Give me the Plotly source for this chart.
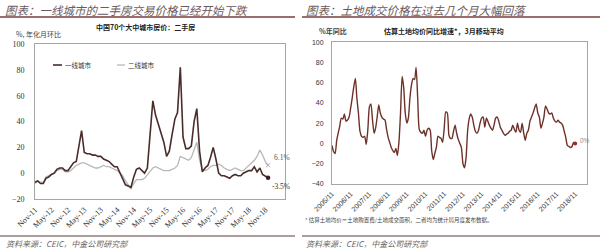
import plotly.graph_objects as go
import pandas as pd

# ---------------- data ----------------
tier1 = [-7, -6, -8, -8, -4, -3, -1, 0, 3, 4, 4, 2, 2, 5, 8, 9, 20, 33, 16, 15,
         15, 14, 14, 13, 13, 11, 10, 9, 7, 5, 5, 0, -4, -9, -10, -11, -3, 3, 4, 2,
         0, 4, 30, 56, 45, 38, 30, 24, 13, 17, 30, 42, 47, 82, 28, 19, 19, 21, 40, 50,
         17, 1, 4, 6, 12, 20, 11, 0, -2, -2, -3, -4, -2, -1, -2, -2, 0, 1, 2, 2,
         5, 1, 4, -1, -2, -3.5]
tier2 = [-8, -6, -7, -7, -3, -2, -1, 0, 2, 3, 3, 1, 1, 2, 4, 6, 7, 8, 8, 7,
         6, 5, 4, 4, 5, 6, 5, 5, 4, 3, 2, 0, -2, -6, -9, -12, -8, -5, -5, -5,
         -4, -1, 2, 4, 5, 4, 3, 2, 2, 2, 3, 4, 6, 13, 12, 11, 10, 12, 18, 24,
         10, 3, 2, 3, 5, 6, 6, 7, 6, 4, 3, 2, 3, 4, 3, 2, 2, 4, 6, 8,
         10, 13, 18, 14, 9, 6.1]
left_start = "2011-11-01"
left_tickvals = ["2011-11-01", "2012-05-01", "2012-11-01", "2013-05-01", "2013-11-01",
                 "2014-05-01", "2014-11-01", "2015-05-01", "2015-11-01", "2016-05-01",
                 "2016-11-01", "2017-05-01", "2017-11-01", "2018-05-01", "2018-11-01"]
left_ticktext = ["Nov-11", "May-12", "Nov-12", "May-13", "Nov-13", "May-14", "Nov-14",
                 "May-15", "Nov-15", "May-16", "Nov-16", "May-17", "Nov-17", "May-18", "Nov-18"]
left_names = ["一线城市", "二线城市"]
left_yticks = [-20, 0, 20, 40, 60, 80, 100]

land = [-2, -8, -10, 3, 10, 17, 25, 24, 29, 22,
        23, 26, 35, 45, 56, 64, 45, 30, 12, 7,
        6, 7, -1, 13, 36, 39, 23, 10, 15, 26,
        38, 30, 26, 24, 23, 14, 6, 1, -4, -7,
        -9, -5, -12, 2, 30, 66, 55, 30, 20, 25,
        45, 58, 64, 63, 75, 45, 14, 11, 10, 13,
        7, 13, 15, 13, -7, -16, -10, -4, 7, 6,
        5, 1, 15, 31, 30, 8, 5, 5, 12, 18,
        10, 4, 0, -4, -20, -24, -14, 13, 24, 29,
        26, 18, 12, 10, 13, 20, 25, 26, 16, 25,
        22, 18, 15, 13, 18, 25, 26, 22, 16, 13,
        10, 8, 9, 10, 12, 13, 18, 14, 11, 20,
        13, 11, 20, 10, 3, 10, 13, 22, 26, 30,
        35, 39, 30, 26, 15, 20, 26, 37, 34, 30,
        29, 30, 25, 22, 21, 23, 21, 20, 18, 12,
        6, -2, -3, -4, -3, 1, 0]
right_start = "2005-11-01"
right_tickvals = [f"{y}-11-01" for y in range(2005, 2019)]
right_ticktext = [f"{y}/11" for y in range(2005, 2019)]
right_yticks = [-40, -20, 0, 20, 40, 60, 80, 100]

# ---------------- helpers ----------------
W, H = 600, 249
def px(x):
    return x / W
def py(y):
    return 1 - y / H

left_dates = pd.date_range(left_start, periods=len(tier1), freq="MS")
right_dates = pd.date_range(right_start, periods=len(land), freq="MS")

CJK = "Noto Sans CJK SC"
fig = go.Figure()

# left chart lines
fig.add_trace(go.Scatter(x=left_dates, y=tier2, mode="lines", name=left_names[1],
                         line=dict(color="#b8b8b8", width=1.3), xaxis="x", yaxis="y"))
fig.add_trace(go.Scatter(x=left_dates, y=tier1, mode="lines", name=left_names[0],
                         line=dict(color="#4a2c2a", width=1.6), xaxis="x", yaxis="y"))
fig.add_trace(go.Scatter(x=[left_dates[-1]], y=[tier2[-1]], mode="markers",
                         marker=dict(color="#b8b8b8", size=4, symbol="x-thin",
                                     line=dict(color="#a8a8a8", width=1)),
                         xaxis="x", yaxis="y"))
fig.add_trace(go.Scatter(x=[left_dates[-1]], y=[tier1[-1]], mode="markers",
                         marker=dict(color="#3a2220", size=4.5), xaxis="x", yaxis="y"))

# right chart line
fig.add_trace(go.Scatter(x=right_dates, y=land, mode="lines",
                         line=dict(color="#6e3129", width=1.4, shape="spline", smoothing=0.6),
                         xaxis="x2", yaxis="y2"))
fig.add_trace(go.Scatter(x=[right_dates[-1]], y=[land[-1]], mode="markers",
                         marker=dict(color="#a0282a", size=4), xaxis="x2", yaxis="y2"))

box = dict(showline=True, mirror=True, linecolor="#a6a6a6", linewidth=1,
           showgrid=False, zeroline=False)
hidden_ticks = dict(ticks="outside", tickcolor="rgba(0,0,0,0)")

left_dom_x = [px(35), px(285)]
left_dom_y = [py(199), py(44)]
right_dom_x = [px(332), px(587)]
right_dom_y = [py(184), py(42)]
left_range = ["2011-11-01", "2019-06-07"]
right_range = ["2005-11-01", "2019-06-20"]

fig.update_layout(
    width=W, height=H, margin=dict(l=0, r=0, t=0, b=0),
    paper_bgcolor="white", plot_bgcolor="white", showlegend=False,
    xaxis=dict(domain=left_dom_x, range=left_range, anchor="y", tickvals=left_tickvals,
               ticktext=left_ticktext, tickangle=-45, ticklen=2, automargin=False,
               tickfont=dict(family="Liberation Serif", size=8, color="#333"),
               **hidden_ticks, **box),
    yaxis=dict(domain=left_dom_y, range=[-20, 100.05], tickvals=left_yticks, anchor="x",
               ticklen=8, automargin=False,
               tickfont=dict(family="Liberation Serif", size=8, color="#333"),
               **hidden_ticks, **box),
    xaxis3=dict(overlaying="x", anchor="free", position=py(173), range=left_range,
                tickvals=left_tickvals, showticklabels=False, ticks="outside", ticklen=3,
                tickcolor="#b0b0b0", showline=True, linecolor="#b0b0b0", linewidth=1,
                showgrid=False, zeroline=False),
    xaxis2=dict(domain=right_dom_x, range=right_range, anchor="y2", tickvals=right_tickvals,
                ticktext=right_ticktext, tickangle=-45, ticklen=2, automargin=False,
                tickfont=dict(family="Liberation Sans", size=7, color="#333"),
                **hidden_ticks, **box),
    yaxis2=dict(domain=right_dom_y, range=[-40.05, 100.05], tickvals=right_yticks, anchor="x2",
                ticklen=6, automargin=False,
                tickfont=dict(family="Liberation Sans", size=7, color="#333"),
                **hidden_ticks, **box),
    xaxis4=dict(overlaying="x2", anchor="free", position=py(143), range=right_range,
                tickvals=right_tickvals, showticklabels=False, ticks="outside", ticklen=3,
                tickcolor="#b0b0b0", showline=True, linecolor="#b0b0b0", linewidth=1,
                showgrid=False, zeroline=False),
)

ann = []
def text(x, y, s, size, color="#333", anchor="left", bold=False, italic=False, family=CJK):
    t = f"<b>{s}</b>" if bold else s
    ann.append(dict(x=px(x), y=py(y), xref="paper", yref="paper", text=t, showarrow=False,
                    xanchor=anchor, yanchor="middle",
                    font=dict(family=family, size=size, color=color,
                              style="italic" if italic else "normal")))

# titles
text(3, 10, "图表：一线城市的二手房交易价格已经开始下跌", 11.5, "#6b5a5a", italic=True)
text(304, 10, "图表：土地成交价格在过去几个月大幅回落", 11.5, "#6b5a5a", italic=True)
# subtitles / units
text(145, 27, "中国70个大中城市房价：二手房", 7, "#222", anchor="center", bold=True)
text(14, 34, "%, 年化月环比", 7, "#444")
text(317, 31, "%年同比", 7, "#444", bold=True)
text(382, 31, "估算土地均价同比增速*，3月移动平均", 7, "#222", bold=True)
# legend texts
text(63, 65, left_names[0], 6.5, "#333")
text(126, 65, left_names[1], 6.5, "#333")
# end labels
text(272, 157, "6.1%", 7.5, "#555", family="Liberation Serif")
text(270, 186, "-3.5%", 7.5, "#333", family="Liberation Serif")
text(578, 140, "0%", 6.5, "#888", family="Liberation Sans")
# footnote and sources
text(303, 220, "* 估算土地均价＝土地购置费/土地成交面积，二者均为统计局月度发布数据。", 5.5, "#444")
text(4, 243, "资料来源：CEIC，中金公司研究部", 8, "#666", italic=True)
text(304, 243, "资料来源：CEIC，中金公司研究部", 8, "#666", italic=True)
fig.update_layout(annotations=ann)

shapes = [
    dict(type="line", xref="paper", yref="paper", x0=px(0), x1=px(295), y0=py(17), y1=py(17),
         line=dict(color="#7a3e3e", width=1.5)),
    dict(type="line", xref="paper", yref="paper", x0=px(302), x1=px(600), y0=py(17), y1=py(17),
         line=dict(color="#7a3e3e", width=1.5)),
    dict(type="line", xref="paper", yref="paper", x0=px(0), x1=px(295), y0=py(236), y1=py(236),
         line=dict(color="#5a3a3a", width=1)),
    dict(type="line", xref="paper", yref="paper", x0=px(302), x1=px(600), y0=py(236), y1=py(236),
         line=dict(color="#5a3a3a", width=1)),
    # legend samples
    dict(type="line", xref="paper", yref="paper", x0=px(53), x1=px(62), y0=py(65), y1=py(65),
         line=dict(color="#4a2c2a", width=1.6)),
    dict(type="line", xref="paper", yref="paper", x0=px(117), x1=px(125), y0=py(65), y1=py(65),
         line=dict(color="#b8b8b8", width=1.3)),
]
fig.update_layout(shapes=shapes)

fig.write_html("out.html")
